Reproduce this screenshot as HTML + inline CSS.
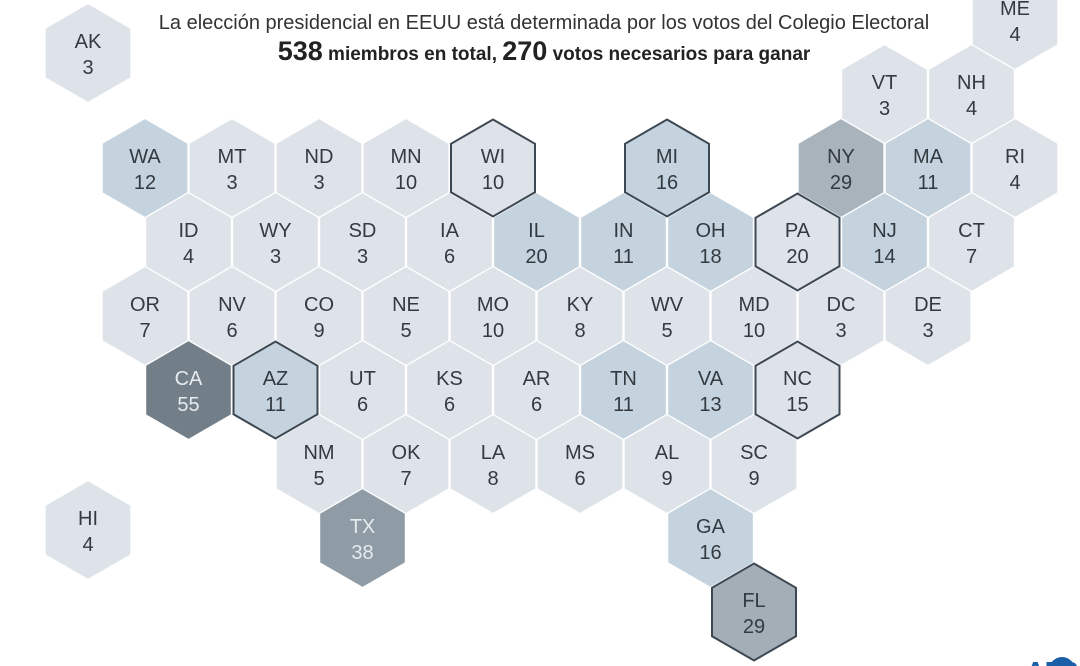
<!DOCTYPE html>
<html><head><meta charset="utf-8">
<style>
html,body{margin:0;padding:0;background:#fff;}
body{width:1080px;height:666px;overflow:hidden;position:relative;font-family:"Liberation Sans",sans-serif;}
svg{position:absolute;left:0;top:0;}
</style></head>
<body>
<svg id="map" width="1080" height="666" viewBox="0 0 1080 666">
<text x="544" y="29" text-anchor="middle" font-size="20" fill="#333">La elección presidencial en EEUU está determinada por los votos del Colegio Electoral</text>
<text x="544" y="60" text-anchor="middle" font-size="19" font-weight="bold" fill="#222"><tspan font-size="27">538</tspan> miembros en total, <tspan font-size="27">270</tspan> votos necesarios para ganar</text>
<text x="20" y="677" font-size="14" fill="#888">Fuente: AFP con datos del Colegio Electoral</text>
<g>
<text x="1026" y="680" font-size="26" font-weight="bold" fill="#1a5fa8">AFP</text>
<circle cx="1062" cy="670" r="13" fill="#1a5fa8"/>
</g>
<g id="hexes"></g>
</svg>
<script>
const states=["AK","ME","VT","NH","WA","MT","ND","MN","WI","MI","NY","MA","RI","ID","WY","SD","IA","IL","IN","OH","PA","NJ","CT","OR","NV","CO","NE","MO","KY","WV","MD","DC","DE","CA","AZ","UT","KS","AR","TN","VA","NC","NM","OK","LA","MS","AL","SC","TX","GA","FL","HI"];
const votes=[3,4,3,4,12,3,3,10,10,16,29,11,4,4,3,3,6,20,11,18,20,14,7,7,6,9,5,10,8,5,10,3,3,55,11,6,6,6,11,13,15,5,7,8,6,9,9,38,16,29,4];
const gridRow=[null,0,1,1,2,2,2,2,2,2,2,2,2,3,3,3,3,3,3,3,3,3,3,4,4,4,4,4,4,4,4,4,4,5,5,5,5,5,5,5,5,6,6,6,6,6,6,7,7,8,null];
const gridCol=[null,10,8,9,0,1,2,3,4,6,8,9,10,0,1,2,3,4,5,6,7,8,9,0,1,2,3,4,5,6,7,8,9,0,1,2,3,4,5,6,7,2,3,4,5,6,7,2,6,7,null];
const swing=["WI","MI","PA","NC","AZ","FL"];
const fills={light:"#dde3e8",mid:"#c4d3de",dark1:"#a8b3bc",dark2:"#8f9ca6",dark3:"#737f88",fl:"#a3aeb7"};
const shade={WA:"mid",MI:"mid",MA:"mid",IL:"mid",IN:"mid",OH:"mid",NJ:"mid",AZ:"mid",TN:"mid",VA:"mid",GA:"mid",NY:"dark1",TX:"dark2",CA:"dark3",FL:"fl"};
const R=49.5,X0=145,Y0=20,DY=74;
function cx(i){if(states[i]==="AK"||states[i]==="HI")return 88;return X0+gridCol[i]*87+(gridRow[i]%2===1?43.5:0);}
function cy(i){if(states[i]==="AK")return 53;if(states[i]==="HI")return 530;return Y0+gridRow[i]*DY;}
function hexPts(x,y,r){let p=[];for(let k=0;k<6;k++){const a=Math.PI/180*(60*k-90);p.push((x+r*Math.cos(a)).toFixed(1)+","+(y+r*Math.sin(a)).toFixed(1));}return p.join(" ");}
const NS="http://www.w3.org/2000/svg",g=document.getElementById("hexes");
const order=states.map((s,i)=>i).sort((a,b)=>(swing.includes(states[a])?1:0)-(swing.includes(states[b])?1:0));
order.forEach(i=>{
 const s=states[i],x=cx(i),y=cy(i),sw=swing.includes(s);
 const grp=document.createElementNS(NS,"g");
 
 
 const poly=document.createElementNS(NS,"polygon");
 poly.setAttribute("points",hexPts(x,y,sw?48.5:R));
 poly.setAttribute("fill",fills[shade[s]||"light"]);
 poly.setAttribute("stroke",sw?"#3d4853":"#ffffff");
 poly.setAttribute("stroke-width",sw?"2":"1.2");
 grp.appendChild(poly);
 const dark=(s==="CA"||s==="TX");
 const col=dark?"#e6ebee":"#333a40";
 const t1=document.createElementNS(NS,"text");
 
 
 t1.setAttribute("x",x);t1.setAttribute("y",y-5);t1.setAttribute("text-anchor","middle");
 t1.setAttribute("font-size","20");t1.setAttribute("fill",col);t1.textContent=s;
 const t2=document.createElementNS(NS,"text");
 
 
 t2.setAttribute("x",x);t2.setAttribute("y",y+21);t2.setAttribute("text-anchor","middle");
 t2.setAttribute("font-size","20");t2.setAttribute("fill",col);t2.textContent=votes[i];
 grp.appendChild(t1);grp.appendChild(t2);g.appendChild(grp);
});
</script>
</body></html>
